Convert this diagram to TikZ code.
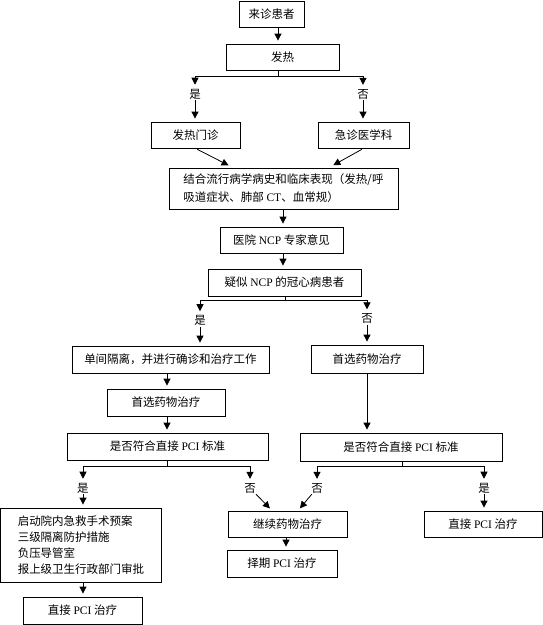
\documentclass[tikz,border=0pt]{standalone}
\usepackage{fontspec}
\setmainfont{Noto Sans CJK SC}
\newfontfamily\ltn{Liberation Serif}
\usetikzlibrary{arrows.meta}
\tikzset{
  box/.style={draw=black, line width=0.8pt, minimum height=26pt, inner sep=2pt, font=\fontsize{11.5}{14}\selectfont},
  yn/.style ={inner sep=1pt, font=\fontsize{11.5}{14}\selectfont},
  edge/.style={-{Triangle[length=7pt,width=7pt]}, line width=0.8pt, shorten >=3pt},
  ln/.style  ={line width=0.8pt},
}

\begin{document}
\begin{tikzpicture}[x=1pt,y=-1pt]
  \useasboundingbox (0,0) rectangle (543,625);
  \node[box, minimum width=65pt]  (visit) at (271.5,14) {来诊患者};
  \node[box, minimum width=113pt] (fever) at (282.5,57) {发热};
  \node[box, minimum width=89pt]  (fclin) at (195.5,135) {发热门诊};
  \node[box, minimum width=91pt]  (emerg) at (363.5,135) {急诊医学科};
  \node[box, minimum width=229pt, minimum height=41pt, align=left, font=\fontsize{11.5}{18}\selectfont] (hist) at (283.5,188.5)
    {结合流行病学病史和临床表现（发热/呼\\吸道症状、肺部 {\ltn CT}、血常规）};
  \node[box, minimum width=123pt] (expert) at (281.5,240) {医院 {\ltn NCP} 专家意见};
  \node[box, minimum width=153pt, minimum height=27pt] (susp) at (284.5,282.5) {疑似 {\ltn NCP} 的冠心病患者};
  \node[box, minimum width=197pt, minimum height=27pt] (isol) at (170.5,359.5) {单间隔离，并进行确诊和治疗工作};
  \node[box, minimum width=118pt, minimum height=27pt] (drugL) at (166,402.5) {首选药物治疗};
  \node[box, minimum width=201pt, minimum height=27pt] (pciL) at (167.5,446.5) {是否符合直接 {\ltn PCI} 标准};
  \node[box, minimum width=112pt, minimum height=28pt] (drugR) at (367,359) {首选药物治疗};
  \node[box, minimum width=202pt, minimum height=28pt] (pciR) at (401,447) {是否符合直接 {\ltn PCI} 标准};
  \node[box, minimum width=161pt, minimum height=74pt, align=left, font=\fontsize{11.5}{16}\selectfont] (plan) at (81,545)
    {启动院内急救手术预案\\三级隔离防护措施\\负压导管室\\报上级卫生行政部门审批};
  \node[box, minimum width=119pt, minimum height=27pt] (directL) at (82.5,610.5) {直接 {\ltn PCI} 治疗};
  \node[box, minimum width=119pt] (cont) at (287.5,524) {继续药物治疗};
  \node[box, minimum width=110pt, minimum height=27pt] (elect) at (282,563.5) {择期 {\ltn PCI} 治疗};
  \node[box, minimum width=118pt] (directR) at (483,524) {直接 {\ltn PCI} 治疗};

  \coordinate (c1) at (278,0);
  \draw[edge] (visit.south -| c1) -- (fever.north -| c1);
  \coordinate (b1) at (278,76);
  \coordinate (b1l) at (195,76);
  \coordinate (b1r) at (363,76);
  \draw[ln] (fever.south -| b1) -- (b1);
  \draw[ln] (b1l) -- (b1r);
  \node[yn] (y1) at (195,94) {是};
  \node[yn] (n1) at (363,94) {否};
  \draw[edge] (b1l) -- (y1);
  \draw[edge] (y1) -- (fclin.north -| y1);
  \draw[edge] (b1r) -- (n1);
  \draw[edge] (n1) -- (emerg.north -| n1);
  \coordinate (h1) at (233,168);
  \coordinate (h2) at (329,168);
  \draw[edge, shorten <=2pt, shorten >=5pt] (fclin.south) -- (hist.north -| h1);
  \draw[edge, shorten <=2pt, shorten >=5pt] (emerg.south) -- (hist.north -| h2);

  \coordinate (c2) at (283,0);
  \draw[edge] (hist.south -| c2) -- (expert.north -| c2);
  \draw[edge] (expert.south -| c2) -- (susp.north -| c2);
  \coordinate (b2) at (285,300);
  \coordinate (b2l) at (200,300);
  \coordinate (b2r) at (367,300);
  \draw[ln] (susp.south -| b2) -- (b2);
  \draw[ln] (b2l) -- (b2r);
  \node[yn] (y2) at (200,320.5) {是};
  \node[yn] (n2) at (367,318.5) {否};
  \draw[edge] (b2l) -- (y2);
  \draw[edge] (y2) -- (isol.north -| y2);
  \draw[edge] (b2r) -- (n2);
  \draw[edge] (n2) -- (drugR.north -| n2);

  \coordinate (c3) at (167,0);
  \draw[edge] (isol.south -| c3) -- (drugL.north -| c3);
  \draw[edge] (drugL.south -| c3) -- (pciL.north -| c3);
  \draw[edge] (drugR.south -| n2) -- (pciR.north -| n2);

  \coordinate (b3) at (167,466);
  \coordinate (b3l) at (83,466);
  \coordinate (b3r) at (250,466);
  \draw[ln] (pciL.south -| b3) -- (b3);
  \draw[ln] (b3l) -- (b3r);
  \node[yn] (y3) at (83,488) {是};
  \node[yn] (n3) at (250,488) {否};
  \draw[edge] (b3l) -- (y3);
  \draw[edge] (y3) -- (plan.north -| y3);
  \draw[edge] (b3r) -- (n3);
  \coordinate (k1) at (272,511);
  \draw[edge] (n3) -- (cont.north -| k1);

  \coordinate (b4) at (402,466);
  \coordinate (b4l) at (317,466);
  \coordinate (b4r) at (484,466);
  \draw[ln] (pciR.south -| b4) -- (b4);
  \draw[ln] (b4l) -- (b4r);
  \node[yn] (n4) at (317,488) {否};
  \node[yn] (y4) at (484,488) {是};
  \draw[edge] (b4l) -- (n4);
  \coordinate (k2) at (298,511);
  \draw[edge] (n4) -- (cont.north -| k2);
  \draw[edge] (b4r) -- (y4);
  \draw[edge] (y4) -- (directR.north -| y4);

  \draw[edge] (plan.south -| y3) -- (directL.north -| y3);
  \coordinate (c4) at (286,0);
  \draw[edge] (cont.south -| c4) -- (elect.north -| c4);
\end{tikzpicture}
\end{document}
